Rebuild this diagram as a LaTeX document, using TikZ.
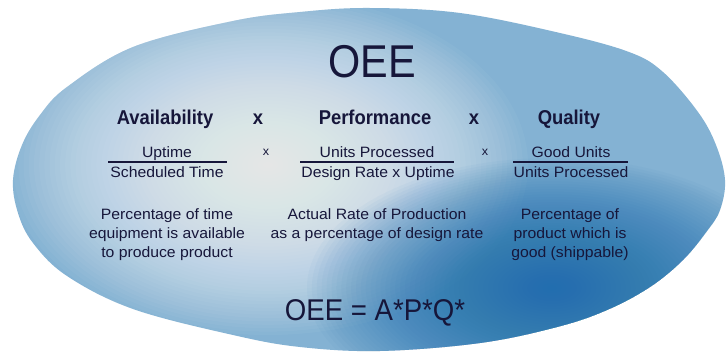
\documentclass[tikz,border=0pt]{standalone}
\usepackage{fontspec}
\setmainfont{Liberation Sans}
\newfontfamily\bodyfont[FakeStretch=1.05]{Liberation Sans}
\newfontfamily\headfont[FakeStretch=0.92]{Liberation Sans}
\newfontfamily\titlefont[FakeStretch=0.9]{Liberation Sans}
\definecolor{ink}{RGB}{22,22,58}
\definecolor{basecol}{RGB}{132,178,211}
\definecolor{deepcol}{RGB}{28,110,175}
\tikzset{
  txt/.style={text=ink, inner sep=0pt, anchor=base},
  body/.style={txt, font=\bodyfont\fontsize{15}{19}\selectfont},
  desc/.style={body, align=center},
  head/.style={txt, font=\headfont\bfseries\fontsize{20}{24}\selectfont},
  smallx/.style={txt, font=\bodyfont\fontsize{12}{14}\selectfont},
  fracline/.style={draw=ink, line width=1.1pt},
}
\newcommand{\blobpath}{plot[smooth cycle, tension=0.6] coordinates {
 (369,8) (460,13) (560,33) (629,52) (663,72) (698,112) (716,145) (725,180)
 (720,210) (707,231) (683,260) (650,287) (607,310) (557,327) (480,343) (380,351)
 (300,347) (233,335) (133,309) (67,276) (33,243) (18,213) (13,180) (22,145)
 (40,115) (67,87) (133,47) (233,21) (300,12)}}
\begin{document}
\begin{tikzpicture}[x=1pt,y=-1pt]
\useasboundingbox (0,0) rectangle (727,352);
\fill[white] (0,0) rectangle (727,352);
\begin{scope}
  \clip \blobpath;
  \fill[basecol] (0,0) rectangle (727,352);
  \foreach \i in {1,...,50} {
    \fill[white, opacity=0.039] (268,165) ellipse ({260*\i/50} and {170*\i/50});
  }
  \foreach \i in {1,...,50} {
    \fill[deepcol, opacity=0.034] (552,288) ellipse ({245*\i/50} and {130*\i/50});
  }
\end{scope}
% title
\node[txt, font=\titlefont\fontsize{46}{50}\selectfont] (title) at (372,78) {OEE};
% headings
\node[head] (avail) at (165,125) {Availability};
\node[head] (x1) at (258,125) {x};
\node[head] (perf) at (375,125) {Performance};
\node[head] (x2) at (474,125) {x};
\node[head] (qual) at (569,125) {Quality};
% fractions
\node[body] (an) at (167,158) {Uptime};
\node[body] (ad) at (167,178) {Scheduled Time};
\node[smallx] (sx1) at (266,156) {x};
\node[body] (pn) at (377,158) {Units Processed};
\node[body] (pd) at (378,178) {Design Rate x Uptime};
\node[smallx] (sx2) at (485,156) {x};
\node[body] (qn) at (571,158) {Good Units};
\node[body] (qd) at (571,178) {Units Processed};
\coordinate (al) at (108,162); \coordinate (ar) at (227,162);
\coordinate (pl) at (300,162); \coordinate (pr) at (454,162);
\coordinate (ql) at (513,162); \coordinate (qr) at (628,162);
\draw[fracline] (al) -- (ar);
\draw[fracline] (pl) -- (pr);
\draw[fracline] (ql) -- (qr);
% descriptions (anchored at the baseline of their last line)
\node[desc] (adesc) at (167,258) {Percentage of time\\equipment is available\\to produce product};
\node[desc] (pdesc) at (377,239) {Actual Rate of Production\\as a percentage of design rate};
\node[desc] (qdesc) at (570,258) {Percentage of\\product which is\\good (shippable)};
% formula
\node[txt, font=\headfont\fontsize{30}{34}\selectfont] (formula) at (375,320) {OEE = A*P*Q*};
\end{tikzpicture}
\end{document}
